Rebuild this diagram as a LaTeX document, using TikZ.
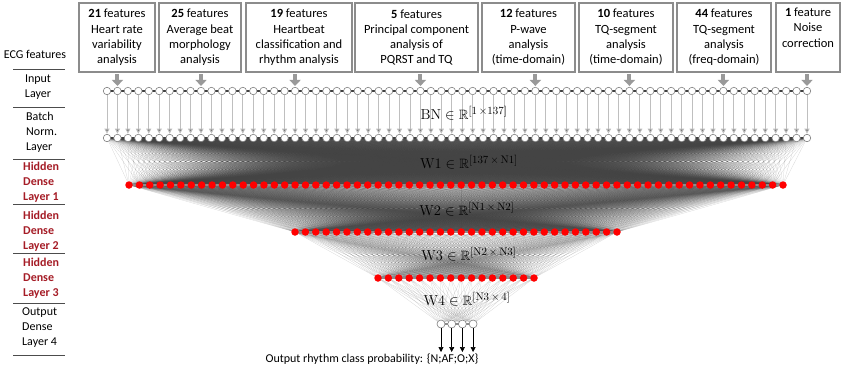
\documentclass[tikz,border=0pt]{standalone}
\usepackage{amsmath,amssymb}
\usepackage[no-math]{fontspec}
\setmainfont{Carlito}
\usepackage{tikz}
\usetikzlibrary{arrows.meta,positioning,backgrounds}
\definecolor{hidred}{RGB}{165,28,38}
\DeclareMathSizes{13.5}{13.5}{10.5}{8}

\begin{document}
\begin{tikzpicture}[x=1pt,y=-1pt,
  featbox/.style={draw=black!45,line width=1.1pt,fill=white,minimum height=69pt,inner sep=0pt,align=center,font=\fontsize{12.5}{15.3}\selectfont},
  featarrow/.style={draw=black!40,line width=4pt,-{Triangle[width=11pt,length=6pt]}},
  innode/.style={circle,draw=black!50,line width=0.6pt,fill=white,minimum size=7.5pt,inner sep=0pt},
  rednode/.style={circle,fill=red,minimum size=7.5pt,inner sep=0pt},
  rowdark/.style={black!75,line width=2pt},
  rowred/.style={black!45,line width=1.4pt},
  vert/.style={draw=black!25,line width=0.9pt,-{Triangle[width=5pt,length=5pt,fill=black!55]},shorten >=0.3pt},
  conn/.style={black!75,line width=0.25pt,draw opacity=0.23},
  outarrow/.style={black,line width=0.6pt,-{Triangle[width=5pt,length=5pt]}},
  lbl/.style={inner sep=0pt,align=left,font=\fontsize{12}{15}\selectfont},
  lblred/.style={lbl,text=hidred,font=\fontsize{12}{15}\selectfont\bfseries},
  sep/.style={black!70,line width=1pt},
  wlabel/.style={inner sep=0pt,font=\fontsize{13.5}{16}\selectfont}]
  \useasboundingbox (0,0) rectangle (849,368);

  \node[featbox,minimum width=76pt] (f1) at (117,37.5) {\textbf{21} features\\Heart rate\\variability\\analysis};
  \node[featbox,minimum width=82pt] (f2) at (200,37.5) {\textbf{25} features\\Average beat\\morphology\\analysis};
  \node[featbox,minimum width=106pt] (f3) at (299,37.5) {\textbf{19} features\\Heartbeat\\classification and\\rhythm analysis};
  \node[featbox,minimum width=123pt] (f4) at (416.5,37.5) {\textbf{5} features\\Principal component\\analysis of\\PQRST and TQ};
  \node[featbox,minimum width=93pt] (f5) at (528.5,37.5) {\textbf{12} features\\P-wave\\analysis\\(time-domain)};
  \node[featbox,minimum width=94pt] (f6) at (626,37.5) {\textbf{10} features\\TQ-segment\\analysis\\(time-domain)};
  \node[featbox,minimum width=94pt] (f7) at (724,37.5) {\textbf{44} features\\TQ-segment\\analysis\\(freq-domain)};
  \node[featbox,minimum width=64pt] (f8) at (808,37.5) {\textbf{1} feature\\Noise\\correction\\\strut};

  \foreach \i in {1,...,68} {
    \node[innode] (in\i) at ({107+(\i-1)*10.4478},91) {};
    \node[innode] (bn\i) at ({107+(\i-1)*10.4478},138) {};
  }
  \foreach \i in {1,...,64} \node[rednode] (ha\i) at ({129+(\i-1)*10.381},185) {};
  \foreach \i in {1,...,32} \node[rednode] (hb\i) at ({295+(\i-1)*10.387},232) {};
  \foreach \i in {1,...,16} \node[rednode] (hc\i) at ({378+(\i-1)*10.4},278) {};
  \foreach \i in {1,...,4} {
    \node[innode,minimum size=8pt] (out\i) at ({441+(\i-1)*10.7},324) {};
    \coordinate (end\i) at ({441+(\i-1)*10.7},352);
  }

  \begin{pgfonlayer}{background}
    \foreach \i in {1,...,68} \foreach \j in {1,...,64} \draw[conn] (bn\i.center) -- (ha\j.center);
    \foreach \i in {1,...,64} \foreach \j in {1,...,32} \draw[conn] (ha\i.center) -- (hb\j.center);
    \foreach \i in {1,...,32} \foreach \j in {1,...,16} \draw[conn] (hb\i.center) -- (hc\j.center);
    \foreach \i in {1,...,16} \foreach \j in {1,...,4} \draw[conn] (hc\i.center) -- (out\j.center);
    \draw[rowdark] (in1.center) -- (in68.center);
    \draw[rowdark] (bn1.center) -- (bn68.center);
    \draw[rowred] (ha1.center) -- (ha64.center);
    \draw[rowred] (hb1.center) -- (hb32.center);
    \draw[rowred] (hc1.center) -- (hc16.center);
    \draw[rowred] (out1.center) -- (out4.center);
  \end{pgfonlayer}

  \foreach \i in {1,...,68} \draw[vert] (in\i) -- (bn\i);
  \foreach \i in {1,...,4} \draw[outarrow] (out\i) -- (end\i);

  \draw[featarrow] ([yshift=-1.5pt]f1.south -| in2) -- ([yshift=1pt]in2.north);
  \draw[featarrow] ([yshift=-1.5pt]f2.south -| in10) -- ([yshift=1pt]in10.north);
  \draw[featarrow] ([yshift=-1.5pt]f3.south -| in19) -- ([yshift=1pt]in19.north);
  \draw[featarrow] ([yshift=-1.5pt]f4.south -| in31) -- ([yshift=1pt]in31.north);
  \draw[featarrow] ([yshift=-1.5pt]f5.south -| in42) -- ([yshift=1pt]in42.north);
  \draw[featarrow] ([yshift=-1.5pt]f6.south -| in51) -- ([yshift=1pt]in51.north);
  \draw[featarrow] ([yshift=-1.5pt]f7.south -| in60) -- ([yshift=1pt]in60.north);
  \draw[featarrow] ([yshift=-1.5pt]f8.south -| in68) -- ([yshift=1pt]in68.north);

  \node[wlabel] (wbn) at (464,113) {$\mathrm{BN} \in \mathbb{R}^{[1\,\times 137]}$};
  \node[wlabel] (w1) at (469,162) {$\mathrm{W1} \in \mathbb{R}^{[137\,\times\,\mathrm{N1}]}$};
  \node[wlabel] (w2) at (467,209) {$\mathrm{W2} \in \mathbb{R}^{[\mathrm{N1}\,\times\,\mathrm{N2}]}$};
  \node[wlabel] (w3) at (469,254) {$\mathrm{W3} \in \mathbb{R}^{[\mathrm{N2}\,\times\,\mathrm{N3}]}$};
  \node[wlabel] (w4) at (467,299) {$\mathrm{W4} \in \mathbb{R}^{[\mathrm{N3}\,\times\,4]}$};

  \node[lbl,font=\fontsize{12}{15}\selectfont] (outtxt) at (372,359) {Output rhythm class probability: \{N;AF;O;X\}};

  \node[lbl] (lecg) at (35,54) {ECG features};
  \node[lbl,align=center] (lin) at (38,87) {Input\\Layer};
  \node[lbl,anchor=west] (lbn) at (26,132) {Batch\\Norm.\\Layer};
  \node[lblred,anchor=west] (lha) at (23,182) {Hidden\\Dense\\Layer 1};
  \node[lblred,anchor=west] (lhb) at (23,231) {Hidden\\Dense\\Layer 2};
  \node[lblred,anchor=west] (lhc) at (23,278) {Hidden\\Dense\\Layer 3};
  \node[lbl,anchor=west] (lout) at (22,328) {Output\\Dense\\Layer 4};
  \foreach \yy in {69,107,159,204,253,303,355} \draw[sep] (13,\yy) -- (65,\yy);
\end{tikzpicture}
\end{document}
